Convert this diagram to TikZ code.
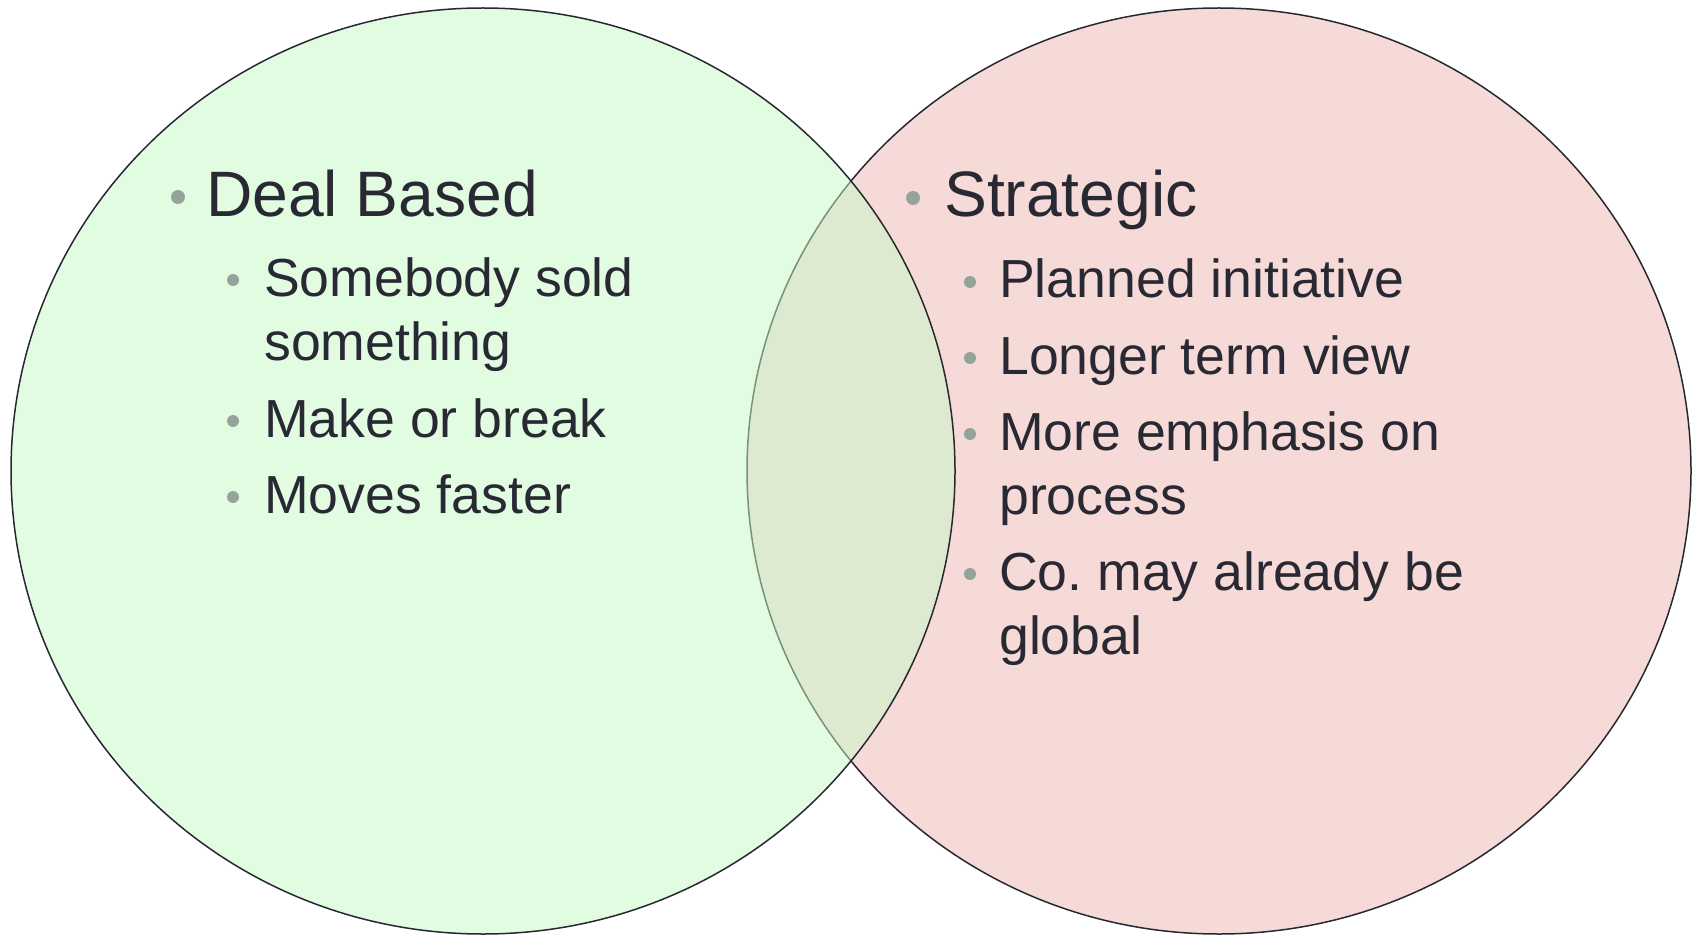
\documentclass[tikz,border=0pt]{standalone}
\usepackage{fontspec}
\setmainfont{Liberation Sans}
\definecolor{txt}{RGB}{41,41,51}
\definecolor{bul}{RGB}{149,163,154}
\definecolor{gfill}{RGB}{199,251,199}
\definecolor{pfill}{RGB}{246,218,216}
\definecolor{edge}{RGB}{40,40,50}
\begin{document}
\begin{tikzpicture}[x=1pt,y=-1pt,
  title/.style={anchor=base west, inner sep=0pt, text=txt, font=\fontsize{64.2}{64}\selectfont},
  item/.style={anchor=base west, inner sep=0pt, text=txt, font=\fontsize{53.6}{64}\selectfont},
  dotA/.style={circle, fill=bul, inner sep=0pt, minimum size=14pt},
  dotB/.style={circle, fill=bul, inner sep=0pt, minimum size=12pt},
  venn/.style={draw=edge, line width=1.5pt}]
\useasboundingbox (0,0) rectangle (1698,936);
\fill[white] (0,0) rectangle (1698,936);
% circles
\draw[venn, fill=pfill] (1219,471) ellipse [x radius=472, y radius=463];
\draw[venn, fill=gfill, fill opacity=0.5] (483,471) ellipse [x radius=472, y radius=463];
% left set
\node[dotA] (ldot) at (178,197) {};
\node[title] (ltitle) at (206,217) {Deal Based};
\node[dotB] (ldot1) at (233,280) {};
\node[item] (l1) at (264,296) {Somebody sold};
\node[item] (l1b) at (264,360) {something};
\node[dotB] (ldot2) at (233,421) {};
\node[item] (l2) at (264,437) {Make or break};
\node[dotB] (ldot3) at (233,497) {};
\node[item] (l3) at (264,513) {Moves faster};
% right set
\node[dotA] (rdot) at (913,198) {};
\node[title] (rtitle) at (944,217) {Strategic};
\node[dotB] (rdot1) at (970,282) {};
\node[item] (r1) at (999,298) {Planned initiative};
\node[dotB] (rdot2) at (970,358) {};
\node[item] (r2) at (999,374) {Longer term view};
\node[dotB] (rdot3) at (970,434) {};
\node[item] (r3) at (999,450) {More emphasis on};
\node[item] (r3b) at (999,514) {process};
\node[dotB] (rdot4) at (970,574) {};
\node[item] (r4) at (999,590) {Co.\ may already be};
\node[item] (r4b) at (999,654) {global};
\end{tikzpicture}
\end{document}
